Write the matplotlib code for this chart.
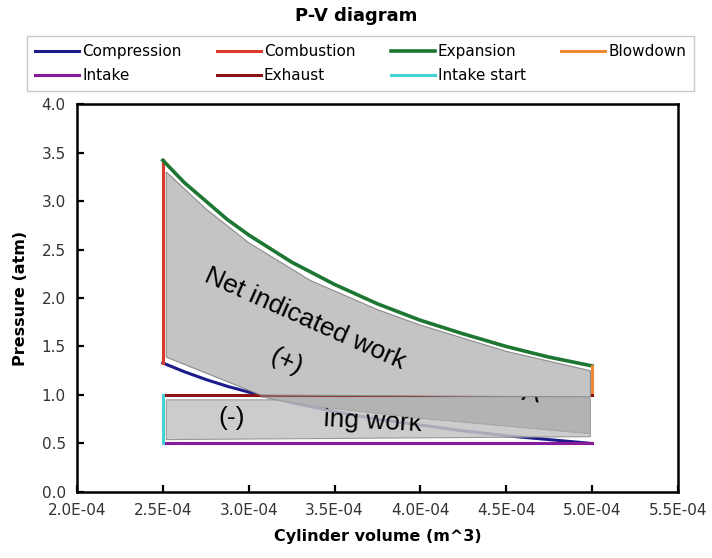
import numpy as np
import matplotlib
matplotlib.use('Agg')
import matplotlib.pyplot as plt

# cycle data (volume in m^3, pressure in atm)
comp_v = [2.50e-4, 2.625e-4, 2.75e-4, 2.875e-4, 3.00e-4, 3.25e-4, 3.50e-4, 3.75e-4, 4.00e-4,
          4.25e-4, 4.50e-4, 4.75e-4, 5.00e-4]
comp_p = [1.33, 1.24, 1.16, 1.09, 1.03, 0.92, 0.83, 0.75, 0.69, 0.63, 0.58, 0.54, 0.50]
comb_v = [2.5e-4, 2.5e-4]
comb_p = [1.33, 3.42]
exp_v = [2.50e-4, 2.625e-4, 2.75e-4, 2.875e-4, 3.00e-4, 3.25e-4, 3.50e-4, 3.75e-4, 4.00e-4,
         4.25e-4, 4.50e-4, 4.75e-4, 5.00e-4]
exp_p = [3.42, 3.19, 3.00, 2.81, 2.65, 2.37, 2.14, 1.94, 1.77, 1.63, 1.50, 1.39, 1.30]
blow_v = [5.0e-4, 5.0e-4]
blow_p = [1.30, 1.00]
exh_v = [5.0e-4, 2.5e-4]
exh_p = [1.00, 1.00]
intake_start_v = [2.5e-4, 2.5e-4]
intake_start_p = [1.00, 0.50]
intake_v = [2.5e-4, 5.0e-4]
intake_p = [0.50, 0.50]

# shaded work areas (pasted gray shapes)
net_v = [2.52e-4, 2.75e-4, 3.00e-4, 3.36e-4, 3.75e-4, 4.00e-4, 4.50e-4, 4.99e-4,
         4.99e-4, 3.07e-4, 2.52e-4]
net_p = [3.30, 2.92, 2.57, 2.18, 1.88, 1.72, 1.45, 1.25,
         0.98, 1.00, 1.39]
pump_v = [2.52e-4, 4.99e-4, 4.99e-4, 2.52e-4]
pump_p = [0.95, 0.95, 0.57, 0.54]
wedge_v = [3.07e-4, 4.99e-4, 4.99e-4, 4.00e-4, 3.40e-4]
wedge_p = [0.98, 0.97, 0.60, 0.76, 0.88]

xticks = [2.0e-4, 2.5e-4, 3.0e-4, 3.5e-4, 4.0e-4, 4.5e-4, 5.0e-4, 5.5e-4]
yticks = [0.0, 0.5, 1.0, 1.5, 2.0, 2.5, 3.0, 3.5, 4.0]

fig = plt.figure(figsize=(7.12, 5.58), dpi=100)
ax = fig.add_axes([0.1081, 0.1183, 0.8441, 0.6953])

lw = 2.2
ax.plot(comp_v, comp_p, color='#1c1c8c', lw=lw, label='Compression', zorder=2)
ax.plot(comb_v, comb_p, color='#d93a2e', lw=lw, label='Combustion', zorder=2)
ax.plot(exp_v, exp_p, color='#1d7733', lw=lw + 0.4, label='Expansion', zorder=2)
ax.plot(blow_v, blow_p, color='#f08a32', lw=lw, label='Blowdown', zorder=2)
ax.plot(intake_v, intake_p, color='#8a1a9c', lw=lw, label='Intake', zorder=2)
ax.plot(exh_v, exh_p, color='#8c1414', lw=lw, label='Exhaust', zorder=2)
ax.plot(intake_start_v, intake_start_p, color='#45d2d2', lw=lw, label='Intake start', zorder=2)

ax.fill(pump_v, pump_p, facecolor='#c4c4c4', edgecolor='#8c8c8c', lw=0.8, alpha=0.85, zorder=3)
ax.text(3.72e-4, 0.73, 'ing work', fontsize=19, family='Liberation Sans', rotation=-3,
        ha='center', va='center', zorder=4)
ax.fill(wedge_v, wedge_p, facecolor='#b3b3b3', edgecolor='#a0a0a0', lw=0.6, zorder=5)
ax.text(4.63e-4, 1.01, "'A", fontsize=19, family='Liberation Sans', rotation=-10,
        ha='center', va='center', zorder=6)
ax.fill(net_v, net_p, facecolor='#c4c4c4', edgecolor='#8c8c8c', lw=0.8, zorder=7)

ax.text(3.33e-4, 1.79, 'Net indicated work', fontsize=19, family='Liberation Sans',
        rotation=-24, ha='center', va='center', zorder=8)
ax.text(3.22e-4, 1.34, '(+)', fontsize=19, family='Liberation Sans',
        rotation=-24, ha='center', va='center', zorder=8)
ax.text(2.90e-4, 0.76, '(-)', fontsize=19, family='Liberation Sans',
        ha='center', va='center', zorder=8)

ax.set_xlim(2.0e-4, 5.5e-4)
ax.set_ylim(0.0, 4.0)
ax.set_xticks(xticks)
ax.set_xticklabels([f'{v:.1E}' for v in xticks])
ax.set_yticks(yticks)
ax.set_yticklabels([f'{v:.1f}' for v in yticks])
ax.tick_params(direction='in', length=5, width=1.6, labelsize=11, colors='black',
               labelcolor='#333333', pad=8)
for s in ax.spines.values():
    s.set_linewidth(1.8)

ax.set_xlabel('Cylinder volume (m^3)', fontsize=11.5, fontweight='bold', labelpad=8)
ax.set_ylabel('Pressure (atm)', fontsize=11.5, fontweight='bold', labelpad=10)
fig.text(0.5, 0.972, 'P-V diagram', fontsize=13, fontweight='bold', ha='center', va='center')

# legend is filled column by column, so order entries to read row-wise
handles, labels = ax.get_legend_handles_labels()
order = [0, 4, 1, 5, 2, 6, 3]
leg = fig.legend([handles[i] for i in order], [labels[i] for i in order],
                 loc='upper left', bbox_to_anchor=(0.038, 0.935), ncol=4,
                 fontsize=11, frameon=True, fancybox=False, edgecolor='#bbbbbb',
                 handlelength=2.9, handletextpad=0.2, columnspacing=2.3,
                 borderpad=0.5, labelspacing=0.6, borderaxespad=0)
leg.get_frame().set_linewidth(1.0)

fig.savefig('out.png', dpi=100)
